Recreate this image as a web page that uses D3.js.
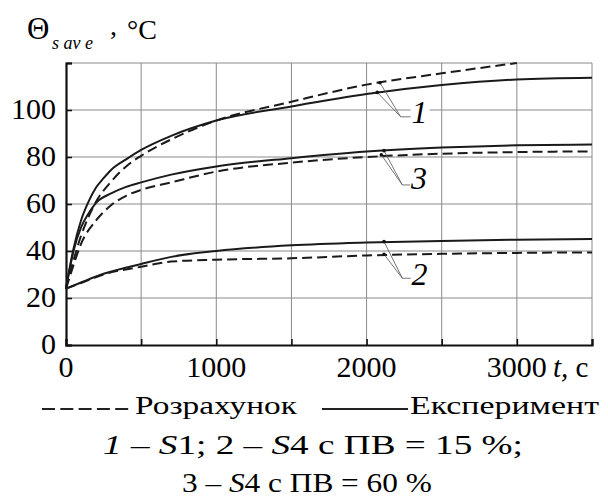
<!DOCTYPE html>
<html><head><meta charset="utf-8">
<script src="https://cdn.jsdelivr.net/npm/d3@7"></script>
<style>
@font-face { font-family: "SerifX"; font-style: normal; font-weight: 400; src: local("Liberation Serif"), local("LiberationSerif"), local("Liberation Serif Regular"), local("LiberationSerif-Regular"); }
@font-face { font-family: "SerifX"; font-style: italic; font-weight: 400; src: local("Liberation Serif Italic"), local("LiberationSerif-Italic"); }
body{margin:0;background:#fff}
</style>
</head><body><svg id="c" width="608" height="501"></svg>
<script>
// ---- data ----
const xTickLabels = [0, 1000, 2000, 3000];
const yTickLabels = [0, 20, 40, 60, 80, 100];
const xGrid = [500, 1000, 1500, 2000, 2500, 3000, 3500];
const yGrid = [20, 40, 60, 80, 100, 120];

const tExp1 = [0, 25, 50, 100, 150, 200, 250, 300, 400, 500, 700, 1000, 1500, 2000, 2500, 3000, 3500];
const vExp1 = [24, 33, 41, 53, 61, 67, 71, 74.5, 79, 83, 89, 95.5, 101.5, 106.8, 110.6, 113, 113.7];
const tCalc1 = [0, 50, 100, 150, 200, 300, 400, 500, 700, 1000, 1500, 2000, 2500, 3000];
const vCalc1 = [24, 36, 46.5, 54.5, 61, 69.5, 76, 80.5, 87.5, 95.5, 103.5, 110.8, 115.6, 120];

const tExp3 = [0, 50, 100, 150, 200, 300, 400, 500, 700, 1000, 1500, 2000, 2500, 3000, 3500];
const vExp3 = [24, 40, 50, 56, 60.5, 64.5, 67.3, 69.2, 72.5, 76, 79.5, 82.3, 84, 85, 85.3];
const tCalc3 = [0, 50, 100, 200, 300, 400, 500, 700, 1000, 1500, 2000, 2500, 3000, 3500];
const vCalc3 = [24, 34, 43, 53, 59.5, 63.5, 66, 69.2, 73.8, 77.6, 80, 81.4, 82.1, 82.4];

const t2 = [0, 100, 250, 500, 700, 1000, 1500, 2000, 2500, 3000, 3500];
const vExp2 = [24, 26.6, 30.3, 34.5, 37.5, 40, 42.4, 43.6, 44.3, 44.8, 45.1];
const vCalc2 = [24, 26.4, 30, 33.3, 35.5, 36.3, 36.9, 38.1, 38.8, 39.2, 39.4];

// curve labels: anchors (t,v) on solid & dashed, knee point, label point (data units)
const labelNames = ["1", "3", "2"];
const labelAnchorsSolid = [[2071, 107.5], [2116, 82.7], [2116, 44]];
const labelAnchorsDashed = [[2089, 111.6], [2098, 80.9], [2116, 38.6]];
const labelKnees = [[2227, 97.1], [2238, 68.1], [2238, 28.4]];
const labelPos = [[2353, 94.6], [2349, 66.2], [2353, 25.5]];

// ---- drawing ----
const FF = '"Liberation Serif", "SerifX", "Times New Roman", "Tinos"';
const svg = d3.select("#c");
const x = d3.scaleLinear().domain([0, 3500]).range([66, 592]);
const y = d3.scaleLinear().domain([0, 120]).range([345, 63]);

const grid = svg.append("g").attr("stroke", "#8a8a8a").attr("stroke-width", 1);
grid.selectAll("line.v").data(xGrid).join("line")
  .attr("x1", d => x(d)).attr("x2", d => x(d)).attr("y1", y(0)).attr("y2", y(120));
grid.selectAll("line.h").data(yGrid).join("line")
  .attr("x1", x(0)).attr("x2", x(3500)).attr("y1", d => y(d)).attr("y2", d => y(d));

// axes (ticks inward, no labels)
const xAxis = d3.axisBottom(x).tickValues(xGrid.concat([0])).tickSize(-6).tickFormat("");
const gx = svg.append("g").attr("transform", `translate(0,${y(0)})`).call(xAxis);
const yAxis = d3.axisLeft(y).tickValues(yGrid.concat([0])).tickSize(-6).tickFormat("");
const gy = svg.append("g").attr("transform", `translate(${x(0)},0)`).call(yAxis);
[gx, gy].forEach(g => {
  g.attr("font-family", null).attr("font-size", null);
  g.selectAll(".tick text").remove();
  g.select(".domain").attr("stroke", "#111").attr("stroke-width", 2.2);
  g.selectAll(".tick line").attr("stroke", "#111").attr("stroke-width", 1.6);
});

const T = (sel) => sel.append("text").style("font-family", FF);
function fit(t, x0, w) {
  t.attr("x", 0);
  let n = t.node(), len = 0;
  try { len = n.getComputedTextLength(); } catch (e) { len = 0; }
  if (len > 0) t.attr("transform", `translate(${x0},0) scale(${w / len},1)`);
  else t.attr("x", x0);
  return t;
}

// tick labels
svg.append("g").selectAll("text").data(xTickLabels).join("text")
  .style("font-family", FF)
  .attr("x", d => x(d)).attr("y", 377).attr("text-anchor", "middle")
  .attr("font-size", 30).text(d => d);
svg.append("g").selectAll("text").data(yTickLabels).join("text")
  .style("font-family", FF)
  .attr("x", 56).attr("y", d => y(d) + 9).attr("text-anchor", "end")
  .attr("font-size", 30).text(d => d);
const xt = T(svg).attr("x", 553).attr("y", 377).attr("font-size", 29);
xt.append("tspan").attr("font-style", "italic").text("t,");
xt.append("tspan").text(" c");

// y title
T(svg).attr("x", 27).attr("y", 39).attr("font-size", 31).text("Θ");
T(svg).attr("x", 52).attr("y", 49).attr("font-size", 18).attr("font-style", "italic").text("s av e");
T(svg).attr("x", 110).attr("y", 35).attr("font-size", 28).text(",");
T(svg).attr("x", 127).attr("y", 39).attr("font-size", 28).text("°C");

// curves
const line = d3.line().x(d => x(d[0])).y(d => y(d[1])).curve(d3.curveMonotoneX);
const zip = (ts, vs) => ts.map((t, i) => [t, vs[i]]);
const series = [
  {d: zip(tExp1, vExp1), dash: null},
  {d: zip(tCalc1, vCalc1), dash: "10,5"},
  {d: zip(tExp3, vExp3), dash: null},
  {d: zip(tCalc3, vCalc3), dash: "10,5"},
  {d: zip(t2, vExp2), dash: null},
  {d: zip(t2, vCalc2), dash: "10,5"}
];
svg.append("g").selectAll("path").data(series).join("path")
  .attr("d", s => line(s.d)).attr("fill", "none").attr("stroke", "#1a1a1a")
  .attr("stroke-width", 2).attr("stroke-dasharray", s => s.dash);

// curve labels
const lg = svg.append("g");
labelNames.forEach((name, i) => {
  const k = labelKnees[i], p = labelPos[i];
  [labelAnchorsSolid[i], labelAnchorsDashed[i]].forEach(a => {
    lg.append("line").attr("x1", x(a[0])).attr("y1", y(a[1])).attr("x2", x(k[0])).attr("y2", y(k[1]))
      .attr("stroke", "#666").attr("stroke-width", 0.9);
    lg.append("circle").attr("cx", x(a[0])).attr("cy", y(a[1])).attr("r", 1.8).attr("fill", "#111");
  });
  lg.append("rect").attr("x", x(p[0]) - 9).attr("y", y(p[1]) - 24).attr("width", 19).attr("height", 27).attr("fill", "#fff");
  lg.append("line").attr("x1", x(k[0])).attr("y1", y(k[1])).attr("x2", x(p[0]) - 9).attr("y2", y(k[1]))
    .attr("stroke", "#666").attr("stroke-width", 0.9);
  T(lg).attr("x", x(p[0])).attr("y", y(p[1])).attr("text-anchor", "middle")
    .attr("font-size", 32).attr("font-style", "italic").text(name);
});

// legend
svg.append("line").attr("x1", 42).attr("x2", 131).attr("y1", 409).attr("y2", 409)
  .attr("stroke", "#222").attr("stroke-width", 1.8).attr("stroke-dasharray", "13,5.3");
fit(T(svg).attr("y", 414).attr("font-size", 26).text("Розрахунок"), 135, 162);
svg.append("line").attr("x1", 322).attr("x2", 408).attr("y1", 409).attr("y2", 409)
  .attr("stroke", "#222").attr("stroke-width", 1.8);
fit(T(svg).attr("y", 414).attr("font-size", 26).text("Експеримент"), 410, 189);

// caption
const c1 = T(svg).attr("y", 454).attr("font-size", 28);
c1.append("tspan").attr("font-style", "italic").text("1");
c1.append("tspan").text(" – ");
c1.append("tspan").attr("font-style", "italic").text("S");
c1.append("tspan").text("1;  2 – ");
c1.append("tspan").attr("font-style", "italic").text("S");
c1.append("tspan").text("4 с ПВ = 15 %;");
fit(c1, 103, 420);
const c2 = T(svg).attr("y", 492).attr("font-size", 28);
c2.append("tspan").text("3 – ");
c2.append("tspan").attr("font-style", "italic").text("S");
c2.append("tspan").text("4 с ПВ = 60 %");
fit(c2, 182, 250);
</script></body></html>
